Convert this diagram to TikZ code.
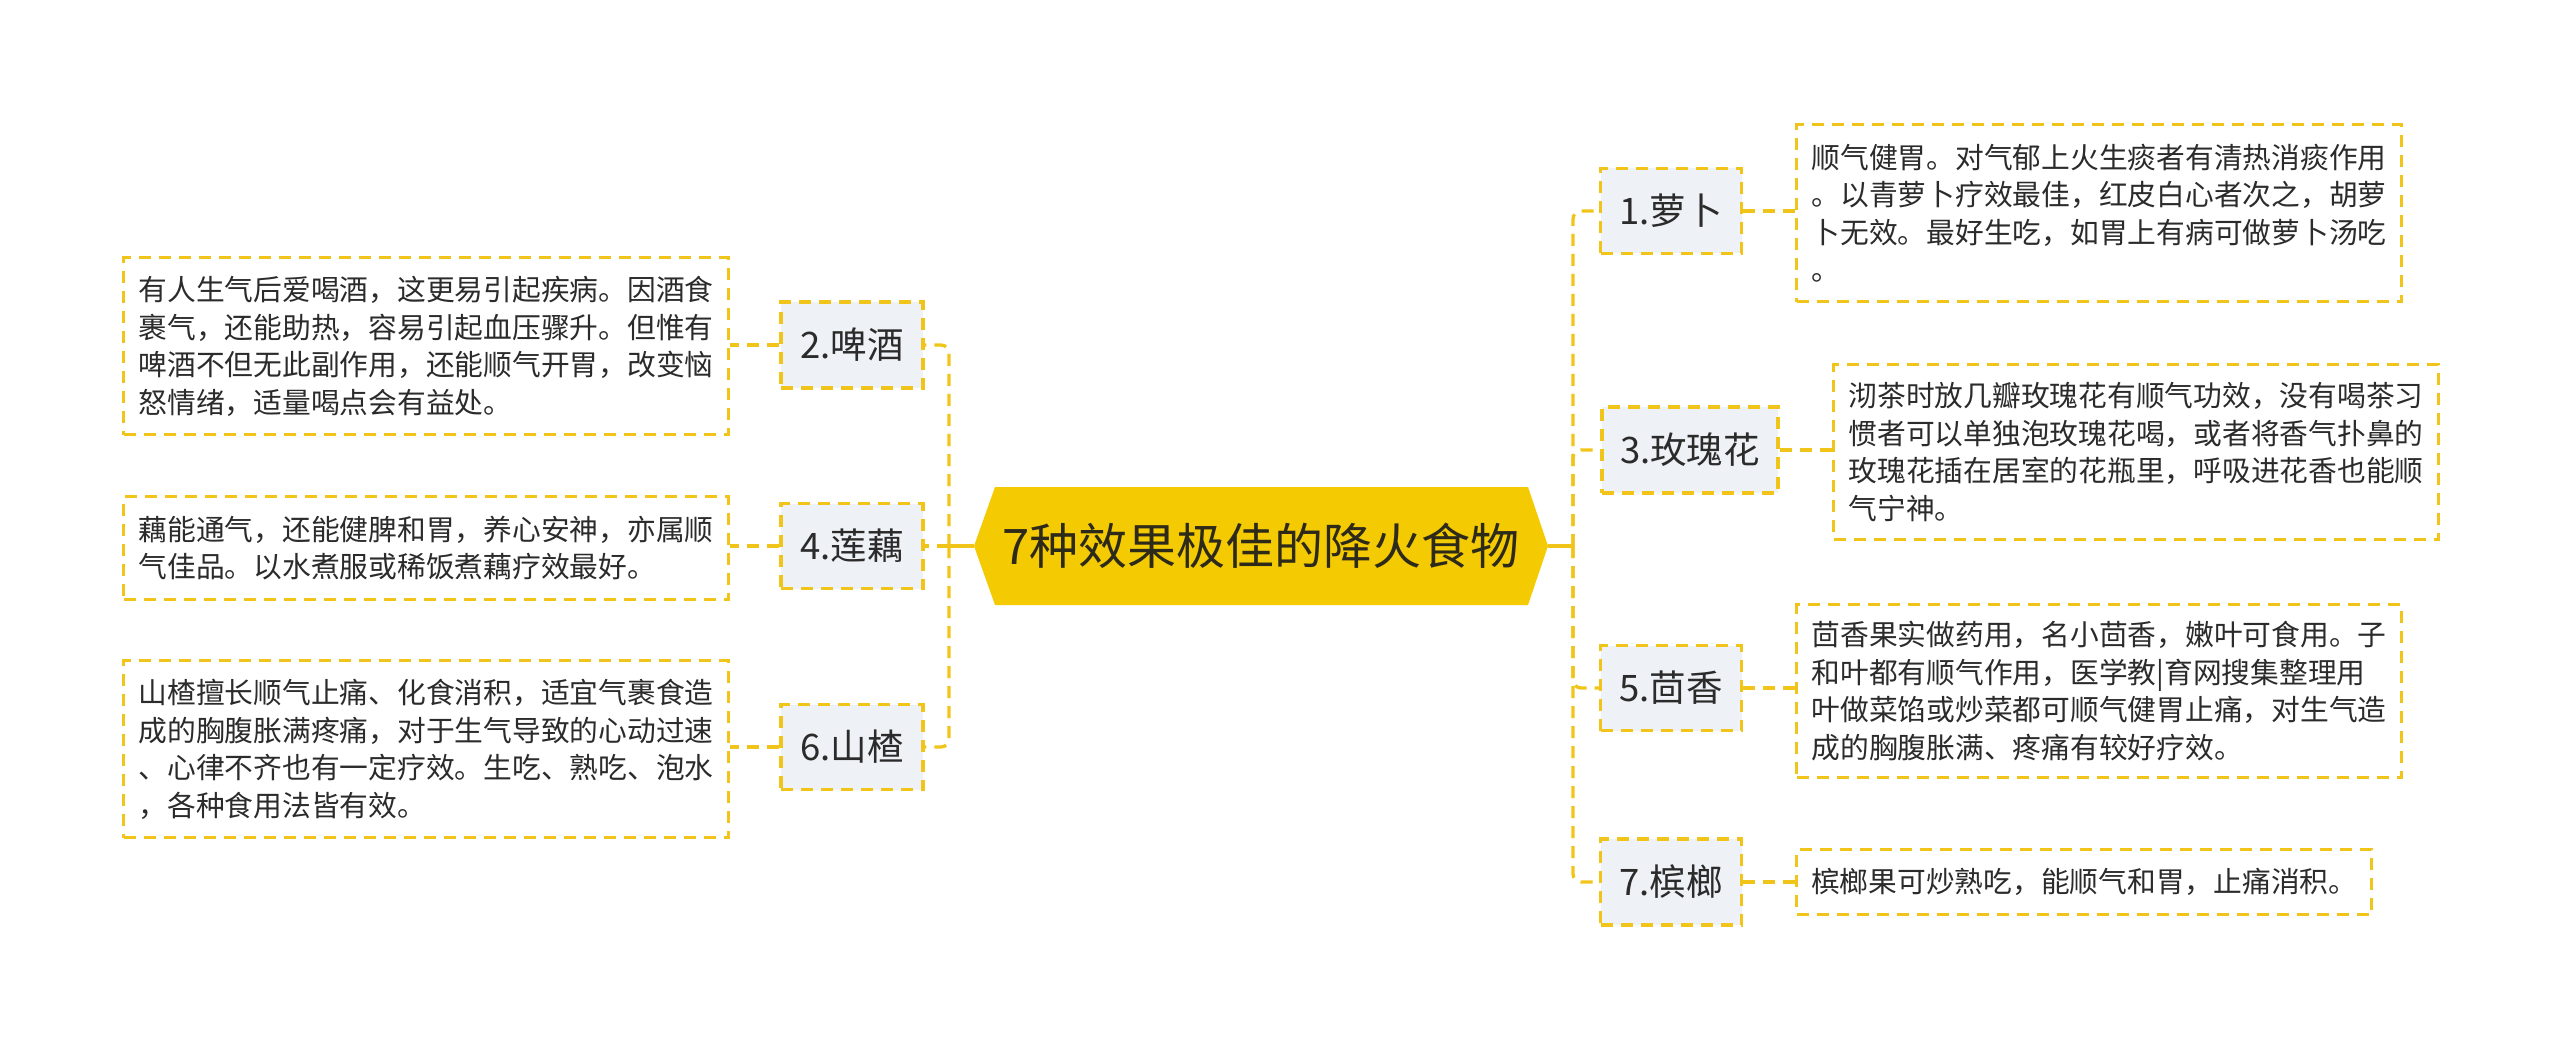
\documentclass[tikz,border=0pt]{standalone}
\usepackage{fontspec}
\setmainfont{Noto Sans CJK SC}
\definecolor{gold}{HTML}{F0C419}
\definecolor{labelfill}{HTML}{EEF1F5}
\definecolor{hexfill}{HTML}{F4CB02}
\definecolor{txt}{HTML}{2B2B2B}
\definecolor{titletxt}{HTML}{2E2A1A}
\tikzset{
  dline/.style={draw=gold, line width=3.3pt, dash pattern=on 12pt off 8pt},
  sline/.style={draw=gold, line width=3.3pt},
  lbl/.style={dline, fill=labelfill, text=txt, inner sep=0pt,
    font=\fontsize{36.5}{44}\selectfont},
  desc/.style={dline, fill=white, text=txt, inner sep=0pt, align=left,
    anchor=north west, font=\fontsize{28.75}{37.5}\selectfont},
}
\begin{document}
\begin{tikzpicture}[x=1pt,y=-1pt]
\useasboundingbox (0,0) rectangle (2560,1048);
% central hexagon
\coordinate (hexL) at (974,546);
\coordinate (hexR) at (1548,546);
\fill[hexfill] (hexL) -- (995,487) -- (1528,487) -- (hexR) -- (1528,605) -- (995,605) -- cycle;
\node[text=titletxt, font=\fontsize{49}{60}\selectfont, inner sep=0pt] (title) at (1261,546) {7种效果极佳的降火食物};
% junctions
\coordinate (rj) at (1573,546);
\coordinate (lj) at (949,546);
% labels
\node[lbl, minimum width=141pt, minimum height=85pt] (l1) at (1671,211) {1.萝卜};
\node[lbl, minimum width=176pt, minimum height=86pt] (l3) at (1690,450) {3.玫瑰花};
\node[lbl, minimum width=141pt, minimum height=85pt] (l5) at (1671,688) {5.茴香};
\node[lbl, minimum width=141pt, minimum height=86pt] (l7) at (1671,882) {7.槟榔};
\node[lbl, minimum width=142pt, minimum height=86pt] (l2) at (852,345) {2.啤酒};
\node[lbl, minimum width=142pt, minimum height=85pt] (l4) at (852,546) {4.莲藕};
\node[lbl, minimum width=142pt, minimum height=85pt] (l6) at (852,747) {6.山楂};
% descriptions
\node[desc, minimum width=605pt, minimum height=177pt] (d1) at (1795,123)
  {顺气健胃。对气郁上火生痰者有清热消痰作用\\。以青萝卜疗效最佳，红皮白心者次之，胡萝\\卜无效。最好生吃，如胃上有病可做萝卜汤吃\\。};
\node[desc, minimum width=605pt, minimum height=175pt] (d3) at (1832,363)
  {沏茶时放几瓣玫瑰花有顺气功效，没有喝茶习\\惯者可以单独泡玫瑰花喝，或者将香气扑鼻的\\玫瑰花插在居室的花瓶里，呼吸进花香也能顺\\气宁神。};
\node[desc, minimum width=605pt, minimum height=173pt] (d5) at (1795,603)
  {茴香果实做药用，名小茴香，嫩叶可食用。子\\和叶都有顺气作用，医学教|育网搜集整理用\\叶做菜馅或炒菜都可顺气健胃止痛，对生气造\\成的胸腹胀满、疼痛有较好疗效。};
\node[desc, minimum width=575pt, minimum height=65pt] (d7) at (1795,848)
  {槟榔果可炒熟吃，能顺气和胃，止痛消积。};
\node[desc, minimum width=605pt, minimum height=177pt] (d2) at (122,256)
  {有人生气后爱喝酒，这更易引起疾病。因酒食\\裹气，还能助热，容易引起血压骤升。但惟有\\啤酒不但无此副作用，还能顺气开胃，改变恼\\怒情绪，适量喝点会有益处。};
\node[desc, minimum width=605pt, minimum height=103pt] (d4) at (122,495)
  {藕能通气，还能健脾和胃，养心安神，亦属顺\\气佳品。以水煮服或稀饭煮藕疗效最好。};
\node[desc, minimum width=605pt, minimum height=177pt] (d6) at (122,659)
  {山楂擅长顺气止痛、化食消积，适宜气裹食造\\成的胸腹胀满疼痛，对于生气导致的心动过速\\、心律不齐也有一定疗效。生吃、熟吃、泡水\\，各种食用法皆有效。};
% connectors from centre
\draw[sline] (hexR) -- (rj);
\draw[sline] (hexL) -- (lj);
\draw[dline, rounded corners=8pt] (rj) |- (l1.west);
\draw[dline, rounded corners=8pt] (rj) |- (l3.west);
\draw[dline, rounded corners=8pt] (rj) |- (l5.west);
\draw[dline, rounded corners=8pt] (rj) |- (l7.west);
\draw[dline, rounded corners=8pt] (lj) |- (l2.east);
\draw[dline] (lj) -- (l4.east);
\draw[dline, rounded corners=8pt] (lj) |- (l6.east);
% label to description
\draw[dline] (l1.east) -- (l1.east -| d1.west);
\draw[dline] (l3.east) -- (l3.east -| d3.west);
\draw[dline] (l5.east) -- (l5.east -| d5.west);
\draw[dline] (l7.east) -- (l7.east -| d7.west);
\draw[dline] (l2.west) -- (l2.west -| d2.east);
\draw[dline] (l4.west) -- (l4.west -| d4.east);
\draw[dline] (l6.west) -- (l6.west -| d6.east);
\end{tikzpicture}
\end{document}
